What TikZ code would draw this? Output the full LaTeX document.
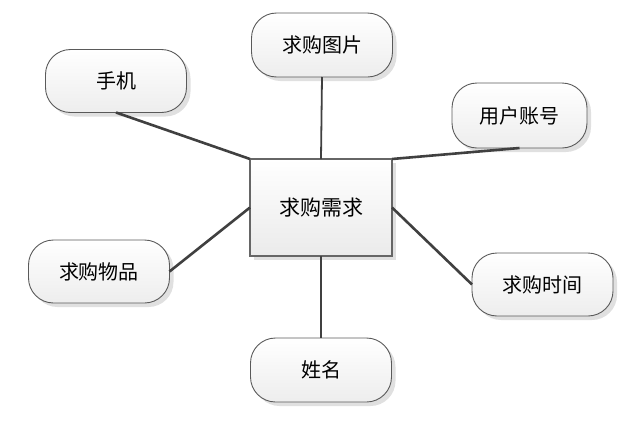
\documentclass[tikz,border=0pt]{standalone}
\usepackage{fontspec}
\setmainfont{Noto Sans CJK SC}
\usetikzlibrary{shadows}
\definecolor{edgegray}{HTML}{404040}
\definecolor{bordergray}{HTML}{5A5A5A}
\tikzset{
  attr/.style={draw=bordergray, line width=0.9pt, rounded corners=25pt,
    top color=white, bottom color=black!7, inner sep=0pt, outer sep=0pt,
    minimum width=141pt, minimum height=63pt, font=\fontsize{20}{24}\selectfont,
    drop shadow={shadow xshift=4pt, shadow yshift=-4pt, fill=black!12, opacity=1}},
  entity/.style={draw=black!60, line width=1.4pt,
    top color=white, bottom color=black!8, inner sep=0pt, outer sep=0pt,
    minimum width=142pt, minimum height=97pt, font=\fontsize{21}{25}\selectfont,
    drop shadow={shadow xshift=4pt, shadow yshift=-4pt, fill=black!12, opacity=1}},
  link/.style={draw=edgegray, line width=2.6pt}
}
\begin{document}
\begin{tikzpicture}[x=1pt,y=-1pt]
\useasboundingbox (0,0) rectangle (630,426);
\node[entity] (c) at (321,207.5) {求购需求};
\node[attr] (phone) at (116,81) {手机};
\node[attr, minimum height=64pt] (pic) at (322,45) {求购图片};
\node[attr, minimum width=135pt, minimum height=65pt] (acct) at (519.5,115.5) {用户账号};
\node[attr] (item) at (99,271.5) {求购物品};
\node[attr] (time) at (542.5,284.5) {求购时间};
\node[attr, minimum height=64pt] (name) at (321,370) {姓名};
\draw[link] (phone.south) -- (c.north west);
\draw[link, line width=1.8pt] (pic.south) -- (c.north);
\draw[link] (c.north east) -- (acct.south);
\draw[link] (item.east) -- (c.west);
\draw[link] (c.east) -- (time.west);
\draw[link, line width=1.8pt] (c.south) -- (name.north);
\end{tikzpicture}
\end{document}
